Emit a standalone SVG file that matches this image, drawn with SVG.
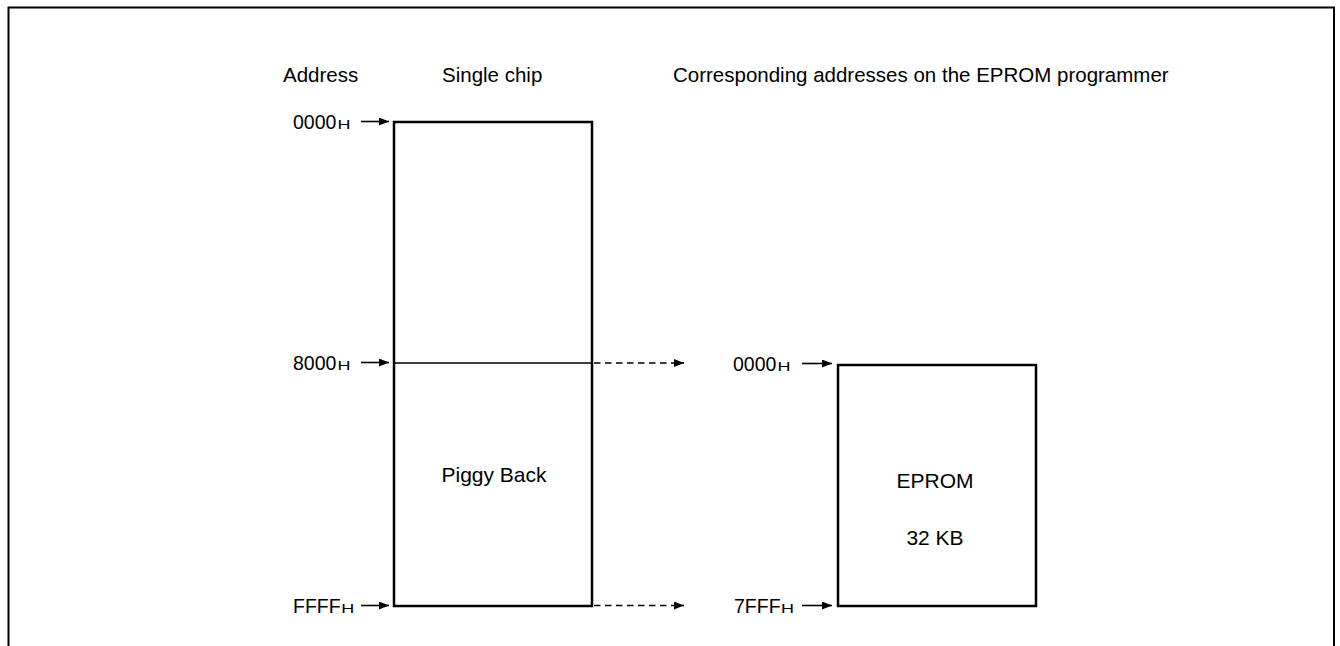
<svg xmlns="http://www.w3.org/2000/svg" width="1340" height="646" viewBox="0 0 1340 646">
<style>
text{font-family:"Liberation Sans",Arial,sans-serif;font-size:20.5px;fill:#000}
.in{font-size:21px}
.ad{font-size:19.5px}
.h{font-size:12px}
.box{fill:#fff;stroke:#000;stroke-width:2.5}
.ln{fill:none;stroke:#000;stroke-width:1.3}
.ar{fill:none;stroke:#000;stroke-width:1.6}
.ds{fill:none;stroke:#000;stroke-width:1.4;stroke-dasharray:6.5 4.5}
</style>
<defs>
<marker id="ah" viewBox="0 0 10 8" refX="10" refY="4" markerWidth="10" markerHeight="8" markerUnits="userSpaceOnUse" orient="auto">
<path d="M0,0 L10,4 L0,8 Z" fill="#000"/>
</marker>
</defs>
<rect width="1340" height="646" fill="#fff"/>
<path d="M8.5,646 V7.5 H1334 V646" fill="none" stroke="#000" stroke-width="2"/>
<g id="headers">
<text x="283" y="82">Address</text>
<text x="442" y="82">Single chip</text>
<text x="673" y="82">Corresponding addresses on the EPROM programmer</text>
</g>
<g id="single-chip">
<rect class="box" x="394" y="122" width="198" height="484"/>
<line class="ln" x1="394" y1="363" x2="592" y2="363"/>
<text class="in" x="494" y="482" text-anchor="middle">Piggy Back</text>
</g>
<g id="eprom">
<rect class="box" x="838" y="365" width="198" height="241"/>
<text class="in" x="935" y="488" text-anchor="middle">EPROM</text>
<text class="in" x="935" y="545" text-anchor="middle">32 KB</text>
</g>
<g id="labels">
<text class="ad" x="293" y="128.5">0000</text>
<text class="h" transform="translate(337.5,128.5) scale(1.5,1)">H</text>
<text class="ad" x="293" y="369.5">8000</text>
<text class="h" transform="translate(337.5,369.5) scale(1.5,1)">H</text>
<text class="ad" x="293" y="612.5">FFFF</text>
<text class="h" transform="translate(341.2,612.5) scale(1.5,1)">H</text>
<text class="ad" x="733" y="370.5">0000</text>
<text class="h" transform="translate(777.5,370.5) scale(1.5,1)">H</text>
<text class="ad" x="734" y="612.5">7FFF</text>
<text class="h" transform="translate(781,612.5) scale(1.5,1)">H</text>
</g>
<g id="connectors">
<line class="ar" x1="361" y1="121.5" x2="389" y2="121.5" marker-end="url(#ah)"/>
<line class="ar" x1="361" y1="362.5" x2="389" y2="362.5" marker-end="url(#ah)"/>
<line class="ar" x1="361" y1="605.5" x2="389" y2="605.5" marker-end="url(#ah)"/>
<line class="ar" x1="802" y1="363.5" x2="832" y2="363.5" marker-end="url(#ah)"/>
<line class="ar" x1="802" y1="605.5" x2="832" y2="605.5" marker-end="url(#ah)"/>
<line class="ds" x1="594" y1="363" x2="684" y2="363" marker-end="url(#ah)"/>
<line class="ds" x1="594" y1="605.5" x2="684" y2="605.5" marker-end="url(#ah)"/>
</g>
</svg>
